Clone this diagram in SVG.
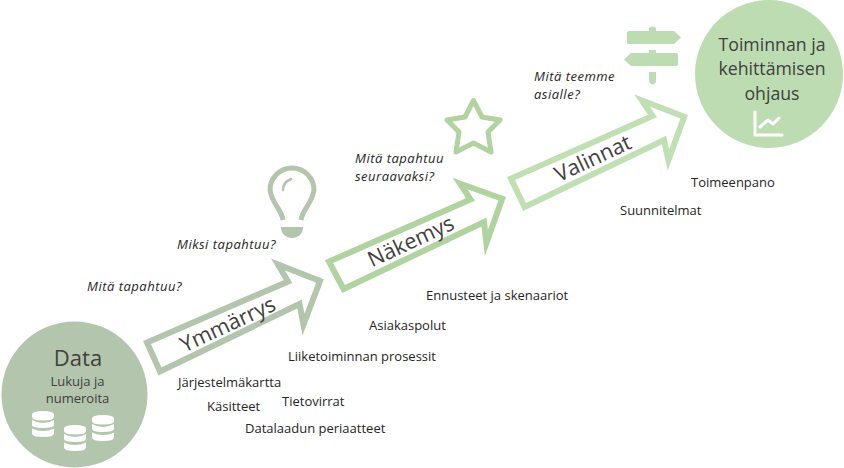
<svg xmlns="http://www.w3.org/2000/svg" width="844" height="468" viewBox="0 0 844 468">
<style>
text{font-family:"Open Sans","Noto Sans","DejaVu Sans",sans-serif;fill:#404040}
.l{font-size:13px;fill:#262626}
.q{font-size:13px;font-style:italic;fill:#262626;letter-spacing:.5px}
.a{fill:#fff;stroke-width:6;stroke-miterlimit:20}
.c{text-anchor:middle}
.b{font-size:21.500px}
</style>
<defs>
<g id="db"><path d="M0 3.5Q0 0 11 0T22 3.5V6Q22 9.500 11 9.500T0 6Z M0 9Q5 12 11 12T22 9V14Q22 17 11 17T0 14Z M0 17.500Q5 20 11 20T22 17.500V22.500Q22 26 11 26T0 22.500Z" fill="#fff"/></g>
</defs>
<rect width="844" height="468" fill="#fff"/>
<g id="connectors">
<polygon class="a" stroke="#b3c5ad" points="147,342.500 160,371.500 299.500,304 303.500,324.500 320,281 278,264.500 288,281.500"/>
<polygon class="a" stroke="#b0d3a0" points="329,261.600 343.600,289 484,222 486.400,243 502.200,198.700 460,183.500 470.500,199.500"/>
<polygon class="a" stroke="#c0e0b4" points="511,178.600 524.600,207 664,140 668.400,160 684.200,116.700 642,100.500 652.500,116"/>
</g>
<g id="arrow-labels">
<text class="c b" transform="translate(231 331) rotate(-25)">Ymmärrys</text>
<text class="c b" transform="translate(414 248) rotate(-25)">Näkemys</text>
<text class="c b" transform="translate(596 165) rotate(-25)">Valinnat</text>
</g>
<g id="data">
<circle cx="74.500" cy="394.500" r="73" fill="#b3c5ad"/>
<text class="c" x="78" y="366" font-size="22">Data</text>
<text class="c" x="77.500" y="386" font-size="13">Lukuja ja</text>
<text class="c" x="77.500" y="403" font-size="13">numeroita</text>
<use href="#db" x="32" y="411"/>
<use href="#db" x="64" y="425"/>
<use href="#db" x="92" y="415"/>
</g>
<g id="ohjaus">
<circle cx="769" cy="74" r="74" fill="#bddcb2"/>
<text class="c" x="772" y="51" font-size="17.700">Toiminnan ja</text>
<text class="c" x="772" y="75" font-size="17.700">kehittämisen</text>
<text class="c" x="772" y="100" font-size="17.700">ohjaus</text>
<path d="M755 112V135H782M760 127L768 120L773 124L779 118" fill="none" stroke="#fff" stroke-width="3" stroke-linecap="round" stroke-linejoin="round"/>
</g>
<g id="bulb">
<path d="M283 220C281 208 272 204 270 190A22 22 0 1 1 314 190C312 204 303 208 301 220" fill="none" stroke="#b3c5ad" stroke-width="5" stroke-linejoin="round"/>
<path d="M283 190C283 184 286 181 291 179" fill="none" stroke="#b3c5ad" stroke-width="2.500" stroke-linecap="round"/>
<path d="M281 227H303C303 234 298 238 292 238C286 238 281 234 281 227Z" fill="#b3c5ad"/>
</g>
<g id="star">
<polygon points="473.500,100.500 482,117 500,120 488,132 491,152 473.500,143 456,152 459,132 447,120 465,117" fill="none" stroke="#b0d3a0" stroke-width="5" stroke-linejoin="round"/>
</g>
<g id="sign" fill="#bddcb2">
<path d="M629 31H674L681 37.500L674 44H629Q627 44 627 42V33Q627 31 629 31Z"/>
<path d="M631 53H676Q678 53 678 55V64Q678 66 676 66H631L624 59.500Z"/>
<path d="M649 31V28Q652.500 25 656 28V31Z M649 53V50H656V53Z M649 72H656V82Q652.500 87 649 82Z"/>
</g>
<g id="labels">
<text class="q" x="87" y="291">Mitä tapahtuu?</text>
<text class="q" x="177" y="249">Miksi tapahtuu?</text>
<text class="q" x="355" y="163">Mitä tapahtuu</text>
<text class="q" x="355" y="181">seuraavaksi?</text>
<text class="q" x="534" y="81">Mitä teemme</text>
<text class="q" x="534" y="99">asialle?</text>
<text class="l" x="178" y="387">Järjestelmäkartta</text>
<text class="l" x="207" y="411">Käsitteet</text>
<text class="l" x="282" y="406">Tietovirrat</text>
<text class="l" x="245" y="433">Datalaadun periaatteet</text>
<text class="l" x="288" y="361">Liiketoiminnan prosessit</text>
<text class="l" x="369" y="330">Asiakaspolut</text>
<text class="l" x="426" y="300">Ennusteet ja skenaariot</text>
<text class="l" x="620" y="215">Suunnitelmat</text>
<text class="l" x="691" y="187">Toimeenpano</text>
</g>
</svg>
